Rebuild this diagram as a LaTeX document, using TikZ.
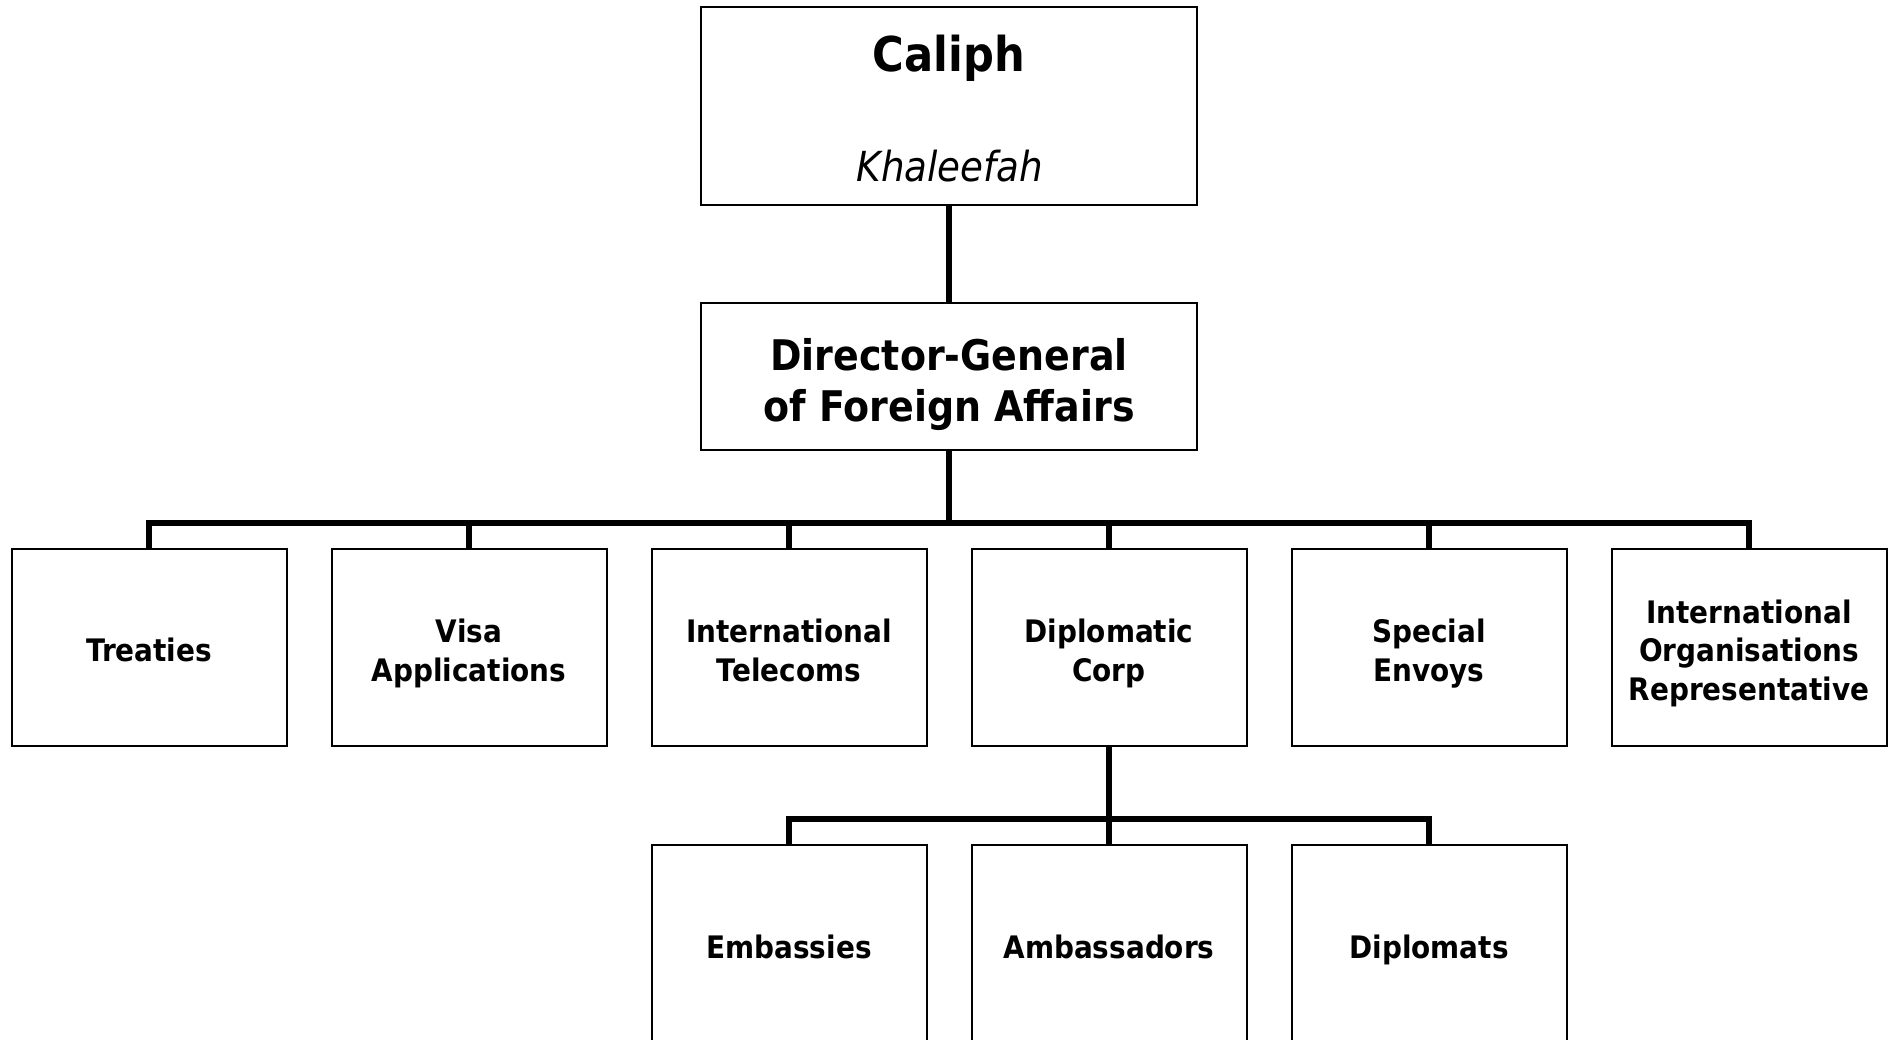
\documentclass[tikz,border=0pt]{standalone}
\usepackage{fontspec}
\setmainfont{DejaVu Sans}[FakeStretch=0.9]
\begin{document}
\begin{tikzpicture}[x=0.5pt,y=-0.5pt,
  box/.style={draw=black, line width=1pt, rectangle, inner sep=0pt,
    minimum width=137.5pt, minimum height=98.5pt},
  lbl/.style={inner sep=0pt, align=center, text depth=0pt,
    font=\fontsize{15.5}{19.3}\selectfont\bfseries},
  topbox/.style={draw=black, line width=1pt, rectangle, inner sep=0pt,
    minimum width=248pt},
  conn/.style={draw=black, line width=2.6pt}]
\useasboundingbox (0,0) rectangle (1888,1039);
% top boxes
\node[topbox, minimum height=99pt] (caliph) at (949,106) {};
\node[anchor=base, font=\fontsize{24}{28}\selectfont\bfseries] (caliphname) at (949,71) {Caliph};
\node[anchor=base, font=\fontsize{20.7}{24}\selectfont\itshape] (caliphar) at (950,181) {Khaleefah};
\node[topbox, minimum height=73.5pt] (dg) at (949,376.5) {};
\node[lbl, font=\fontsize{21.1}{25.3}\selectfont\bfseries] (dg-t) at ([yshift=-1.8pt]dg.center) {Director-General\\of Foreign Affairs};
% second row
\node[box] (treaties) at (149,647.5) {};
\node[box] (visa) at (469,647.5) {};
\node[box] (telecoms) at (789,647.5) {};
\node[box] (diplo) at (1109,647.5) {};
\node[box] (envoys) at (1429,647.5) {};
\node[box] (intorg) at (1749,647.5) {};
\node[lbl] (treaties-t) at ([yshift=-1.3pt]treaties.center) {Treaties};
\node[lbl] (visa-t) at ([yshift=-1.3pt]visa.center) {Visa\\Applications};
\node[lbl] (telecoms-t) at ([yshift=-1.3pt]telecoms.center) {International\\Telecoms};
\node[lbl] (diplo-t) at ([yshift=-1.3pt]diplo.center) {Diplomatic\\Corp};
\node[lbl] (envoys-t) at ([yshift=-1.3pt]envoys.center) {Special\\Envoys};
\node[lbl] (intorg-t) at ([yshift=-1.3pt]intorg.center) {International\\Organisations\\Representative};
% third row
\node[box] (emb) at (789,943.5) {};
\node[box] (amb) at (1109,943.5) {};
\node[box] (dipl) at (1429,943.5) {};
\node[lbl] (emb-t) at ([yshift=-1.6pt]emb.center) {Embassies};
\node[lbl] (amb-t) at ([yshift=-1.6pt]amb.center) {Ambassadors};
\node[lbl] (dipl-t) at ([yshift=-1.6pt]dipl.center) {Diplomats};
% bus coordinates
\coordinate (bus) at (0,523);
\coordinate (subbus) at (0,819);
% connectors
\draw[conn] (caliph.south) -- (dg.north);
\draw[conn] (dg.south) -- (dg.south |- bus);
\draw[conn] (treaties.north) -- (treaties.north |- bus) -| (intorg.north);
\draw[conn] (visa.north) -- (visa.north |- bus);
\draw[conn] (telecoms.north) -- (telecoms.north |- bus);
\draw[conn] (diplo.north) -- (diplo.north |- bus);
\draw[conn] (envoys.north) -- (envoys.north |- bus);
\draw[conn] (diplo.south) -- (amb.north);
\draw[conn] (emb.north) -- (emb.north |- subbus) -| (dipl.north);
\end{tikzpicture}
\end{document}
